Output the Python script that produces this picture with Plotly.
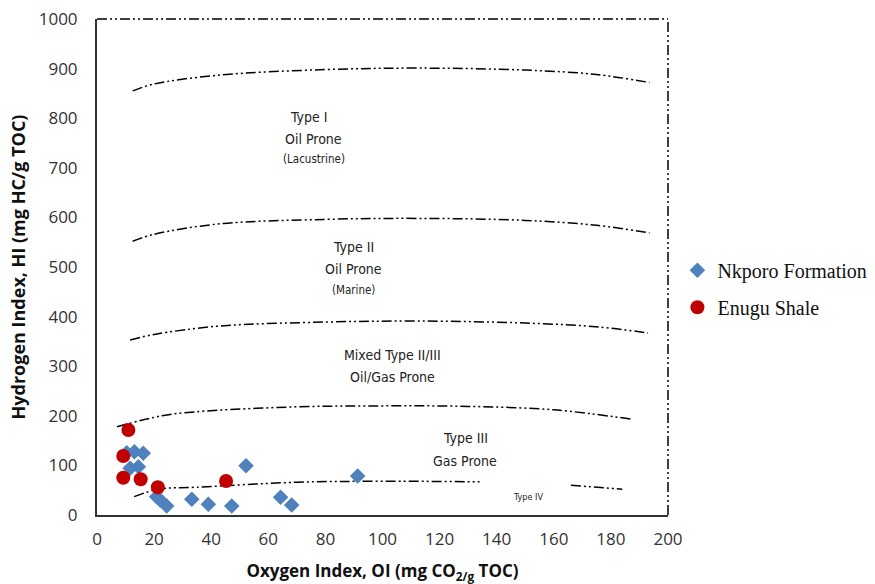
import plotly.graph_objects as go

# ---- data ----
nk_oi = [10.4, 13.1, 16.2, 11.6, 14.5, 20.9, 22.1, 24.4, 33.2, 39.0, 47.2, 52.2, 64.3, 68.2, 91.3]
nk_hi = [125.6, 127.6, 124.4, 94.2, 97.4, 36.9, 30.2, 18.1, 31.7, 21.6, 18.1, 99.4, 35.7, 20.2, 78.6]

en_oi = [11.0, 9.2, 9.2, 15.3, 21.3, 45.2]
en_hi = [171.4, 119.0, 75.2, 72.0, 55.8, 68.5]

# boundary curves (OI, HI)
b1_oi = [12.5, 20, 43, 80, 113, 150, 175, 193.5]
b1_hi = [855, 869, 887, 898, 901, 897, 888, 872]
b2_oi = [12.5, 20, 43, 80, 113, 150, 175, 193.5]
b2_hi = [552, 566, 587, 596, 598, 594, 584, 569]
b3_oi = [11.6, 20, 43, 80, 113, 150, 176, 193]
b3_hi = [353, 364, 381, 389, 391, 387, 379, 367]
b4_oi = [7, 22.7, 34.3, 69.4, 100, 130, 160, 187.7]
b4_hi = [178, 200, 208, 218, 220, 219, 212, 193]
b5_oi = [13, 21.5, 35, 70, 100, 134, None, 166, 184]
b5_hi = [37, 52, 56, 66, 68, 67, None, 60, 52]

# region labels
lab_text = ["Type I", "Oil Prone", "(Lacustrine)",
            "Type II", "Oil Prone", "(Marine)",
            "Mixed Type II/III", "Oil/Gas Prone",
            "Type III", "Gas Prone", "Type IV"]
lab_oi = [74, 76, 76, 90, 90, 90, 103.5, 103.5, 129, 129, 151]
lab_hi = [802, 758, 718, 540, 496, 454, 323, 278, 155, 109, 37]
lab_size = [14, 14, 11.5, 14, 14, 11.5, 14, 14, 14, 14, 9]

x_ticks = list(range(0, 201, 20))
y_ticks = list(range(0, 1001, 100))

DASH = "10px,3px,2px,3px,2px,3px"
COND = "Liberation Sans Narrow, DejaVu Sans Condensed, Roboto Condensed, Arial Narrow, Roboto, sans-serif"

fig = go.Figure()

for bx, by in [(b1_oi, b1_hi), (b2_oi, b2_hi), (b3_oi, b3_hi), (b4_oi, b4_hi), (b5_oi, b5_hi)]:
    fig.add_trace(go.Scatter(x=bx, y=by, mode="lines", showlegend=False, hoverinfo="skip",
                             line=dict(color="black", width=1.5, dash=DASH, shape="spline", smoothing=1.0),
                             connectgaps=False))

fig.add_trace(go.Scatter(x=nk_oi, y=nk_hi, mode="markers", name="Nkporo Formation",
                         legendgroup="a",
                         marker=dict(symbol="diamond", size=12, color="#4F81BD")))
fig.add_trace(go.Scatter(x=en_oi, y=en_hi, mode="markers", name="Enugu Shale",
                         legendgroup="b",
                         marker=dict(symbol="circle", size=14, color="#C00000")))

for t, xo, yh, s in zip(lab_text, lab_oi, lab_hi, lab_size):
    fig.add_annotation(x=xo, y=yh, text=t, showarrow=False,
                       font=dict(family=COND, size=s, color="#222"))

# dash-dot-dot frame on top and right
fig.add_shape(type="line", xref="paper", yref="paper", x0=0, x1=1, y0=1, y1=1,
              line=dict(color="black", width=1.5, dash=DASH))
fig.add_shape(type="line", xref="paper", yref="paper", x0=1, x1=1, y0=0, y1=1,
              line=dict(color="black", width=1.5, dash=DASH))

fig.update_layout(
    width=875, height=584,
    margin=dict(l=97, r=207, t=19, b=69, autoexpand=False),
    plot_bgcolor="white", paper_bgcolor="white",
    font=dict(family="Open Sans, sans-serif", color="#333"),
    legend=dict(x=1.0165, xanchor="left", y=0.456, yanchor="middle",
                font=dict(family="Liberation Serif, Times New Roman, serif", size=20, color="#111"),
                tracegroupgap=8, bgcolor="rgba(0,0,0,0)", itemwidth=30),
)
fig.update_xaxes(range=[0, 200], tickvals=x_ticks, showgrid=False, zeroline=False,
                 showline=True, linecolor="#333", linewidth=2, ticks="",
                 tickfont=dict(size=17, color="#333"), ticklabelstandoff=8,
                 title=dict(text="<b>Oxygen Index, OI (mg CO<sub>2/g</sub> TOC)</b>",
                            font=dict(size=17, color="#111"), standoff=16))
fig.update_yaxes(range=[0, 1000], tickvals=y_ticks, showgrid=False, zeroline=False,
                 showline=True, linecolor="#333", linewidth=2, ticks="",
                 tickfont=dict(size=17, color="#333"), ticklabelstandoff=14,
                 title=dict(text="<b>Hydrogen Index, HI (mg HC/g TOC)</b>",
                            font=dict(size=18, color="#111"), standoff=8))

fig.write_html("out.html")
